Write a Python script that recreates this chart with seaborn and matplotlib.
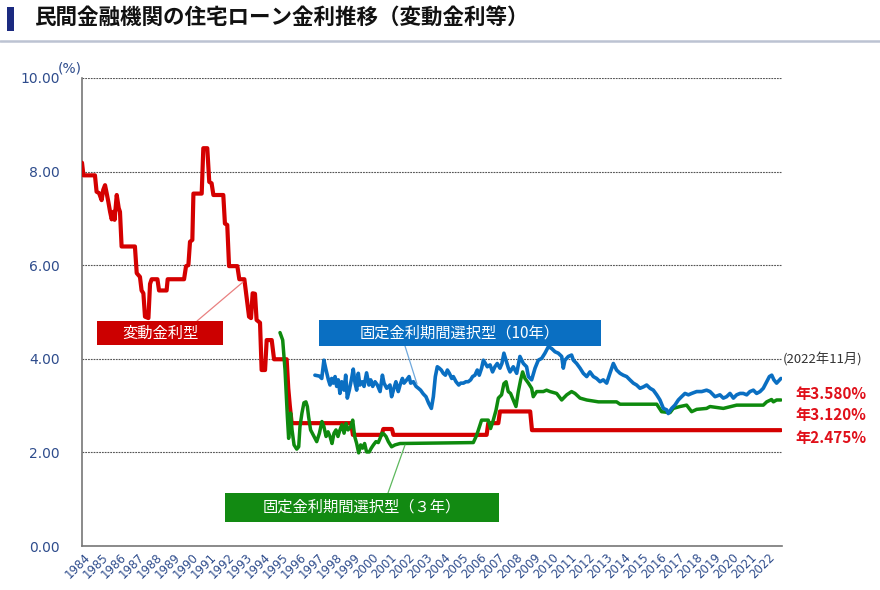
import matplotlib
matplotlib.use('Agg')
import matplotlib.pyplot as plt
import seaborn as sns
import pandas as pd
from matplotlib.patches import Rectangle
from matplotlib.lines import Line2D

# ---------------- data ----------------
title = '民間金融機関の住宅ローン金利推移（変動金利等）'

variable_years = [1984.00, 1984.08, 1984.72, 1984.81, 1984.95, 1985.09, 1985.18, 1985.28, 1985.37, 1985.46,
                  1985.56, 1985.65, 1985.74, 1985.81, 1985.93, 1986.04, 1986.11, 1986.20, 1986.94, 1987.04,
                  1987.22, 1987.31, 1987.41, 1987.50, 1987.69, 1987.78, 1987.87, 1988.19, 1988.28, 1988.70,
                  1988.76, 1989.67, 1989.78, 1989.91, 1990.00, 1990.13, 1990.19, 1990.65, 1990.74, 1990.96,
                  1991.07, 1991.20, 1991.30, 1991.85, 1991.94, 1992.07, 1992.17, 1992.63, 1992.74, 1993.02,
                  1993.15, 1993.28, 1993.39, 1993.48, 1993.61, 1993.70, 1993.89, 1993.98, 1994.17, 1994.26,
                  1994.54, 1994.67, 1995.37, 1995.46, 1995.55, 1995.65, 1998.95, 1999.05, 2000.65, 2000.74,
                  2001.22, 2001.30, 2006.48, 2006.57, 2007.13, 2007.22, 2008.90, 2009.00, 2022.83]
variable_rates = [8.19, 7.92, 7.92, 7.57, 7.54, 7.39, 7.61, 7.71, 7.54, 7.36,
                  7.14, 6.98, 7.14, 6.97, 7.50, 7.22, 7.14, 6.40, 6.40, 5.83,
                  5.75, 5.46, 5.40, 4.90, 4.87, 5.60, 5.70, 5.70, 5.46, 5.46,
                  5.70, 5.70, 5.98, 6.00, 6.50, 6.54, 7.53, 7.53, 8.50, 8.50,
                  7.78, 7.75, 7.50, 7.50, 6.89, 6.86, 5.98, 5.98, 5.70, 5.70,
                  5.30, 4.90, 4.87, 5.40, 5.39, 4.83, 4.77, 3.76, 3.76, 4.40,
                  4.40, 3.99, 3.99, 3.37, 2.98, 2.625, 2.625, 2.375, 2.375, 2.5,
                  2.5, 2.375, 2.375, 2.625, 2.625, 2.875, 2.875, 2.475, 2.475]

fixed3_years = [1995.00, 1995.15, 1995.28, 1995.41, 1995.48, 1995.59, 1995.67, 1995.78, 1995.93, 1996.04,
                1996.11, 1996.22, 1996.33, 1996.44, 1996.52, 1996.59, 1996.70, 1996.85, 1997.04, 1997.19,
                1997.33, 1997.44, 1997.56, 1997.67, 1997.78, 1997.89, 1998.00, 1998.11, 1998.22, 1998.33,
                1998.44, 1998.56, 1998.67, 1998.78, 1998.93, 1999.04, 1999.15, 1999.26, 1999.37, 1999.48,
                1999.59, 1999.70, 1999.81, 1999.96, 2000.07, 2000.19, 2000.33, 2000.46, 2000.56, 2000.67,
                2000.78, 2000.89, 2001.02, 2001.20, 2001.39, 2001.67, 2005.74, 2005.93, 2006.20, 2006.57,
                2006.70, 2006.85, 2007.00, 2007.13, 2007.31, 2007.44, 2007.56, 2007.68, 2007.81, 2007.96,
                2008.11, 2008.24, 2008.37, 2008.48, 2008.61, 2008.80, 2008.98, 2009.07, 2009.26, 2009.63,
                2009.81, 2010.00, 2010.37, 2010.65, 2010.93, 2011.20, 2011.39, 2011.67, 2012.04, 2012.69,
                2013.70, 2013.89, 2015.93, 2016.20, 2016.67, 2016.85, 2017.22, 2017.59, 2017.87, 2018.15,
                2018.70, 2018.89, 2019.63, 2020.37, 2021.85, 2022.04, 2022.31, 2022.41, 2022.59, 2022.83]
fixed3_rates = [4.56, 4.40, 3.76, 2.76, 2.30, 2.84, 2.48, 2.16, 2.07, 2.12,
                2.55, 2.84, 3.06, 3.08, 2.98, 2.76, 2.48, 2.37, 2.23, 2.41,
                2.66, 2.55, 2.34, 2.44, 2.34, 2.19, 2.41, 2.48, 2.34, 2.48,
                2.59, 2.41, 2.62, 2.48, 2.55, 2.69, 2.34, 2.19, 1.99, 2.16,
                2.09, 2.19, 2.01, 2.01, 2.09, 2.16, 2.23, 2.21, 2.30, 2.41,
                2.39, 2.34, 2.23, 2.12, 2.16, 2.19, 2.21, 2.37, 2.69, 2.69,
                2.51, 2.69, 2.90, 3.16, 3.23, 3.47, 3.51, 3.30, 3.26, 3.12,
                2.98, 3.30, 3.55, 3.72, 3.58, 3.48, 3.37, 3.19, 3.30, 3.30,
                3.33, 3.30, 3.26, 3.12, 3.23, 3.30, 3.26, 3.16, 3.12, 3.08,
                3.08, 3.03, 3.03, 2.87, 2.85, 2.94, 2.98, 3.01, 2.87, 2.92,
                2.94, 2.98, 2.94, 3.01, 3.01, 3.08, 3.13, 3.08, 3.12, 3.12]

fixed10_years = [1996.94, 1997.19, 1997.32, 1997.44, 1997.56, 1997.69, 1997.78, 1997.87, 1997.96, 1998.06,
                 1998.15, 1998.24, 1998.33, 1998.43, 1998.56, 1998.65, 1998.74, 1998.85, 1998.98, 1999.07,
                 1999.17, 1999.26, 1999.35, 1999.44, 1999.57, 1999.67, 1999.81, 1999.94, 2000.04, 2000.15,
                 2000.28, 2000.41, 2000.56, 2000.69, 2000.78, 2000.93, 2001.11, 2001.20, 2001.33, 2001.44,
                 2001.57, 2001.67, 2001.80, 2001.89, 2002.04, 2002.17, 2002.26, 2002.41, 2002.56, 2002.69,
                 2002.81, 2002.96, 2003.11, 2003.26, 2003.41, 2003.52, 2003.63, 2003.74, 2003.85, 2003.96,
                 2004.07, 2004.19, 2004.30, 2004.41, 2004.54, 2004.63, 2004.78, 2004.93, 2005.04, 2005.19,
                 2005.33, 2005.46, 2005.59, 2005.70, 2005.83, 2005.96, 2006.07, 2006.20, 2006.30, 2006.41,
                 2006.52, 2006.67, 2006.81, 2006.94, 2007.07, 2007.22, 2007.33, 2007.44, 2007.56, 2007.69,
                 2007.78, 2007.96, 2008.15, 2008.33, 2008.52, 2008.70, 2008.80, 2008.98, 2009.17, 2009.35,
                 2009.54, 2009.72, 2009.91, 2010.09, 2010.28, 2010.46, 2010.65, 2010.74, 2010.83, 2011.02,
                 2011.20, 2011.30, 2011.48, 2011.67, 2011.85, 2012.04, 2012.22, 2012.41, 2012.59, 2012.78,
                 2012.96, 2013.15, 2013.33, 2013.52, 2013.70, 2013.89, 2014.07, 2014.26, 2014.44, 2014.63,
                 2014.81, 2015.00, 2015.19, 2015.37, 2015.56, 2015.74, 2015.93, 2016.11, 2016.30, 2016.48,
                 2016.57, 2016.76, 2016.94, 2017.13, 2017.31, 2017.50, 2017.69, 2017.87, 2018.15, 2018.43,
                 2018.70, 2018.89, 2019.17, 2019.44, 2019.63, 2019.81, 2020.00, 2020.19, 2020.37, 2020.56,
                 2020.74, 2020.93, 2021.11, 2021.30, 2021.48, 2021.67, 2021.85, 2022.04, 2022.19, 2022.32,
                 2022.44, 2022.59, 2022.83]
fixed10_rates = [3.65, 3.63, 3.58, 3.97, 3.76, 3.55, 3.44, 3.58, 3.48, 3.62,
                 3.41, 3.55, 3.26, 3.51, 3.33, 3.65, 3.16, 3.33, 3.58, 3.78,
                 3.48, 3.33, 3.69, 3.44, 3.51, 3.41, 3.70, 3.44, 3.55, 3.41,
                 3.51, 3.44, 3.30, 3.65, 3.48, 3.37, 3.44, 3.19, 3.37, 3.51,
                 3.30, 3.44, 3.58, 3.48, 3.55, 3.62, 3.48, 3.51, 3.41, 3.37,
                 3.33, 3.25, 3.19, 3.05, 2.94, 3.19, 3.62, 3.83, 3.80, 3.76,
                 3.69, 3.65, 3.76, 3.69, 3.58, 3.62, 3.51, 3.44, 3.48, 3.48,
                 3.51, 3.51, 3.55, 3.62, 3.65, 3.76, 3.65, 3.80, 3.97, 3.90,
                 3.83, 3.87, 3.72, 3.83, 3.90, 3.80, 3.90, 4.12, 3.97, 3.80,
                 3.72, 3.83, 3.69, 4.05, 3.90, 3.83, 3.62, 3.55, 3.80, 3.97,
                 4.01, 4.12, 4.26, 4.22, 4.15, 4.12, 4.05, 3.80, 3.97, 4.05,
                 4.08, 3.97, 3.90, 3.80, 3.69, 3.62, 3.72, 3.62, 3.58, 3.51,
                 3.55, 3.48, 3.69, 3.90, 3.76, 3.69, 3.65, 3.62, 3.55, 3.48,
                 3.44, 3.37, 3.40, 3.44, 3.37, 3.33, 3.23, 3.12, 2.94, 2.91,
                 2.83, 2.94, 3.01, 3.12, 3.19, 3.26, 3.23, 3.26, 3.30, 3.30,
                 3.33, 3.30, 3.19, 3.23, 3.16, 3.19, 3.26, 3.16, 3.23, 3.26,
                 3.26, 3.23, 3.30, 3.33, 3.26, 3.30, 3.37, 3.51, 3.62, 3.65,
                 3.55, 3.48, 3.58]

year_labels = [str(y) for y in range(1984, 2023)]
ytick_values = [0, 2, 4, 6, 8, 10]
series_names = ['変動金利型', '固定金利期間選択型（10年）', '固定金利期間選択型（３年）']
latest_note = '(2022年11月)'
latest_labels = ['年3.580%', '年3.120%', '年2.475%']

# ---------------- style ----------------
sns.set_style('white')
CJK = ['Noto Sans CJK JP', 'DejaVu Sans']
plt.rcParams['font.family'] = ['DejaVu Sans', 'Noto Sans CJK JP']

RED = '#D40000'
BLUE = '#0A6FC2'
GREEN = '#0E8A0E'
NAVY = '#2E4C8C'

W, H = 880, 590
fig = plt.figure(figsize=(W / 100, H / 100), dpi=100)
ax = fig.add_axes([82 / W, 1 - 546 / H, 700 / W, 468 / H])


def fx(x):
    return x / W


def fy(y):
    return 1 - y / H


df_var = pd.DataFrame({'year': variable_years, 'rate': variable_rates})
df_f3 = pd.DataFrame({'year': fixed3_years, 'rate': fixed3_rates})
df_f10 = pd.DataFrame({'year': fixed10_years, 'rate': fixed10_rates})

sns.lineplot(data=df_var, x='year', y='rate', ax=ax, color=RED, lw=3.0,
             estimator=None, sort=False, zorder=3)
sns.lineplot(data=df_f3, x='year', y='rate', ax=ax, color=GREEN, lw=2.5,
             estimator=None, sort=False, zorder=4)
sns.lineplot(data=df_f10, x='year', y='rate', ax=ax, color=BLUE, lw=2.6,
             estimator=None, sort=False, zorder=5)

ax.set_xlim(1984, 2022.89)
ax.set_ylim(0, 10)
ax.set_xlabel('')
ax.set_ylabel('')

# y axis
ax.set_yticks(ytick_values)
ax.set_yticklabels([f'{v:.2f}' for v in ytick_values], color=NAVY, fontsize=10)
ax.tick_params(axis='y', length=0, pad=16)
ax.grid(axis='y', linestyle=(0, (1.6, 0.9)), color='#555555', lw=0.8)
ax.grid(axis='x', visible=False)

# x axis: boundary ticks + centered labels
ax.set_xticks(list(range(1985, 2023)))
ax.set_xticklabels([])
ax.tick_params(axis='x', which='major', direction='in', length=4, width=1, color='#666666')
ax.set_xticks([int(y) + 0.35 for y in year_labels], minor=True)
ax.set_xticklabels(year_labels, minor=True, rotation=45, ha='right', va='center',
                   rotation_mode='anchor', color=NAVY, fontsize=8.5)
ax.tick_params(axis='x', which='minor', length=0, pad=7)

for s in ['top', 'right']:
    ax.spines[s].set_visible(False)
for s in ['left', 'bottom']:
    ax.spines[s].set_color('#777777')
    ax.spines[s].set_linewidth(1.2)

fig.text(fx(70), fy(69), '(%)', color=NAVY, fontsize=10, ha='center', va='center')

# ---------------- title ----------------
fig.patches.append(Rectangle((fx(7), fy(31)), 7 / W, 24 / H, transform=fig.transFigure,
                             facecolor='#1B2A80', edgecolor='none'))
fig.text(fx(34), fy(17), title, family=CJK, fontsize=15.5, fontweight='bold',
         ha='left', va='center', color='#111111')
fig.lines.append(Line2D([0, 1], [fy(41), fy(41)], transform=fig.transFigure,
                        color='#BCC3D2', lw=1.8))


# ---------------- series boxes ----------------
def label_box(x0, y0, x1, y1, color, text):
    fig.patches.append(Rectangle((fx(x0), fy(y1)), (x1 - x0) / W, (y1 - y0) / H,
                                 transform=fig.transFigure, facecolor=color,
                                 edgecolor='none', zorder=6))
    fig.text(fx((x0 + x1) / 2), fy((y0 + y1) / 2), text, color='white', family=CJK,
             fontsize=11, ha='center', va='center', zorder=7)


def leader(x0, y0, x1, y1, color):
    fig.lines.append(Line2D([fx(x0), fx(x1)], [fy(y0), fy(y1)], transform=fig.transFigure,
                            color=color, lw=0.9, zorder=6))


leader(197, 321, 243, 282, '#E98080')
label_box(97, 321, 223, 345, '#CC0000', series_names[0])
leader(405, 346, 417, 384, '#6FA8DC')
label_box(319, 320, 601, 346, BLUE, series_names[1])
leader(388, 493, 405, 445, '#5DB85D')
label_box(225, 493, 499, 522, '#128A12', series_names[2])

# ---------------- latest values ----------------
fig.text(fx(783), fy(359), latest_note, family=CJK, fontsize=9.5, color='#333333',
         ha='left', va='center')
for text, ypix in zip(latest_labels, [394, 415, 438]):
    fig.text(fx(795), fy(ypix), text, family=CJK, fontsize=11, fontweight='bold',
             color='#E0101A', ha='left', va='center')

fig.savefig('out.png', dpi=100)
